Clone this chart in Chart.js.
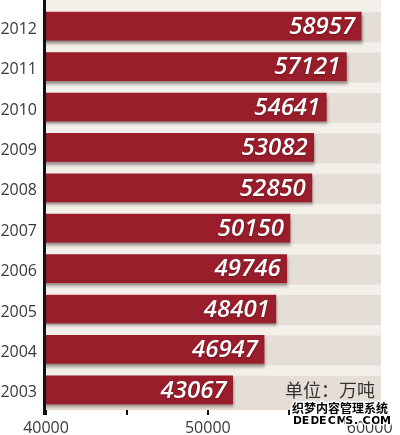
<!DOCTYPE html>
<html><head><meta charset="utf-8">
<script src="https://cdn.jsdelivr.net/npm/chart.js@4/dist/chart.umd.min.js"></script>
<style>html,body{margin:0;padding:0;background:#fff;}#wrap{width:400px;height:435px;position:relative;}</style>
</head><body><div id="wrap"><canvas id="c"></canvas></div>
<script>
const years = ['2003','2004','2005','2006','2007','2008','2009','2010','2011','2012'];
const output = [43067,46947,48401,49746,50150,52850,53082,54641,57121,58957];
const tickValues = [20000,30000,40000,50000,60000];
const tickLabels = ['40000','','50000','','60000'];
const unitLabel = '单位：万吨';
const watermarkCN = '织梦内容管理系统';
const watermarkEN = 'DEDECMS.COM';
const axisMin = 20000, axisMax = 61400;

const RED = '#9a1d2b', TRACK = '#e5ded6', CREAM = '#f3efe9', TXT = '#3a3a3a';

const bgPlugin = {
  id: 'bg',
  beforeDraw(chart) {
    const {ctx, chartArea: a, scales: {y}} = chart;
    ctx.save();
    ctx.fillStyle = CREAM;
    ctx.fillRect(a.left, 0, a.right - a.left, a.bottom);
    ctx.fillStyle = TRACK;
    years.forEach((_, i) => {
      const cy = y.getPixelForValue(i);
      const top = cy - 14;
      const bot = i === 0 ? a.bottom : cy + 16;
      ctx.fillRect(a.left, top, a.right - a.left, bot - top);
    });
    ctx.restore();
  },
  beforeDatasetsDraw(chart) {
    const ctx = chart.ctx;
    ctx.save();
    ctx.shadowColor = 'rgba(40,20,20,0.45)';
    ctx.shadowBlur = 3;
    ctx.shadowOffsetY = 3;
    ctx.shadowOffsetX = 1;
  },
  afterDatasetsDraw(chart) {
    const ctx = chart.ctx;
    ctx.restore();
    const meta = chart.getDatasetMeta(0);
    ctx.save();
    ctx.font = 'italic 600 24px "Open Sans"';
    ctx.fillStyle = '#fff';
    ctx.textAlign = 'right';
    ctx.textBaseline = 'middle';
    ctx.shadowColor = 'rgba(0,0,0,0.3)';
    ctx.shadowBlur = 2;
    ctx.shadowOffsetY = 1;
    meta.data.forEach((bar, i) => {
      ctx.fillText(String(output[i]), bar.x - 6, bar.y + 1);
    });
    ctx.restore();
  },
  afterDraw(chart) {
    const {ctx, chartArea: a, scales: {y}} = chart;
    ctx.save();
    ctx.fillStyle = '#111';
    ctx.fillRect(a.left - 3, 0, 3, a.bottom + 5);
    ctx.font = '18px "Noto Sans CJK SC"';
    ctx.fillStyle = '#333';
    ctx.textAlign = 'right';
    ctx.textBaseline = 'middle';
    ctx.fillText(unitLabel, a.right - 6, y.getPixelForValue(0));
    ctx.textAlign = 'left';
    ctx.font = 'bold 12px "Noto Sans CJK SC"';
    ctx.lineWidth = 3;
    ctx.strokeStyle = '#fff';
    ctx.lineJoin = 'round';
    ctx.strokeText(watermarkCN, 292, 408);
    ctx.fillStyle = '#000';
    ctx.fillText(watermarkCN, 292, 408);
    ctx.font = 'bold 11px "DejaVu Sans"';
    [...watermarkEN].forEach((ch, k) => {
      const x = 293 + k * 8.7;
      ctx.strokeText(ch, x, 421);
      ctx.fillText(ch, x, 421);
    });
    ctx.restore();
  }
};

new Chart(document.getElementById('c'), {
  type: 'bar',
  data: {
    labels: years,
    datasets: [{
      data: output,
      backgroundColor: RED,
      barThickness: 28,
      borderWidth: 0
    }]
  },
  options: {
    indexAxis: 'y',
    responsive: true,
    maintainAspectRatio: false,
    animation: false,
    devicePixelRatio: 1,
    layout: {padding: {top: 6, right: 19, left: 0, bottom: 0}},
    plugins: {legend: {display: false}, tooltip: {enabled: false}},
    scales: {
      x: {
        type: 'linear',
        min: axisMin,
        max: axisMax,
        afterBuildTicks: s => { s.ticks = tickValues.map(v => ({value: v})); },
        afterFit: s => { s.height = 25; s.paddingLeft = 0; s.paddingRight = 0; },
        ticks: {
          callback: v => tickLabels[tickValues.indexOf(v)],
          font: {family: 'Open Sans', size: 16},
          color: TXT,
          padding: 4,
          maxRotation: 0,
          autoSkip: false
        },
        grid: {drawOnChartArea: false, drawTicks: true, tickLength: 5, color: '#111', lineWidth: 2},
        border: {display: false}
      },
      y: {
        type: 'category',
        reverse: true,
        afterFit: s => { s.width = 46; s.paddingTop = 0; s.paddingBottom = 0; },
        ticks: {font: {family: 'Open Sans', size: 16}, color: TXT, padding: 9, labelOffset: 3},
        grid: {display: false, drawTicks: false},
        border: {display: false}
      }
    }
  },
  plugins: [bgPlugin]
});
</script>
</body></html>
